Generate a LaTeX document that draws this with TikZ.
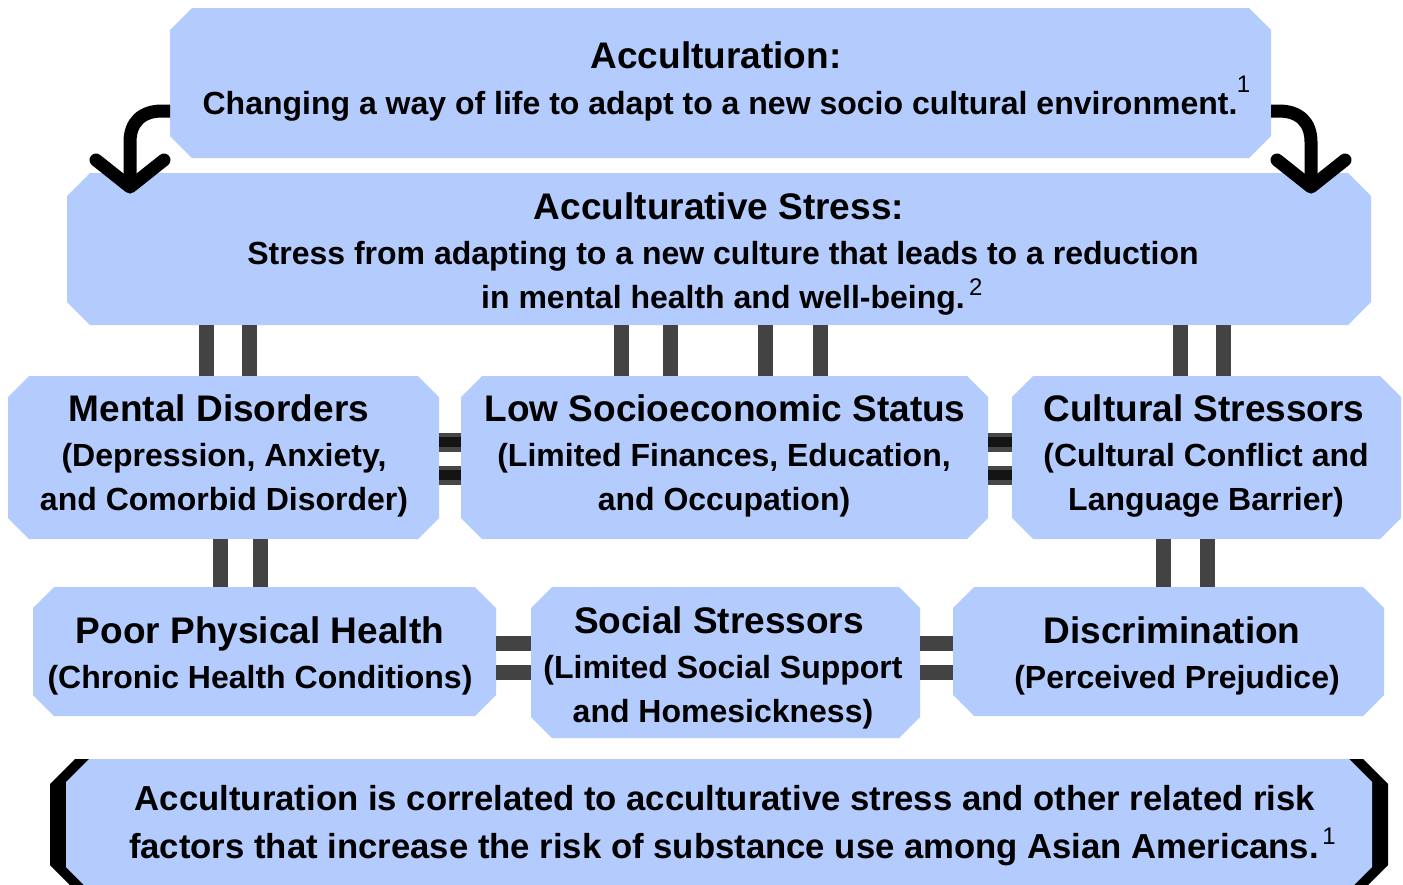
\documentclass[tikz,border=0pt]{standalone}
\usepackage{fontspec}
\setmainfont{Liberation Sans}
\definecolor{boxblue}{HTML}{B4CBFE}
\definecolor{bargray}{HTML}{434343}
\definecolor{bardark}{HTML}{141414}
\definecolor{barrim}{HTML}{474747}
\newcommand\obox[6]{%
  \fill[boxblue] (#2+#6,#3) -- (#4-#6,#3) -- (#4,#3+#6) -- (#4,#5-#6) -- (#4-#6,#5) -- (#2+#6,#5) -- (#2,#5-#6) -- (#2,#3+#6) -- cycle;
  \node[boxnode, minimum width={(#4-#2)*1pt}, minimum height={(#5-#3)*1pt}] (#1) at ({(#2+#4)/2},{(#3+#5)/2}) {};}
\begin{document}
\begin{tikzpicture}[x=1pt,y=-1pt,
  boxnode/.style={inner sep=0pt, outer sep=0pt, draw=none},
  ttl/.style={font=\fontsize{37}{44}\selectfont\bfseries, anchor=base, inner sep=0pt},
  body/.style={font=\fontsize{32}{44}\selectfont\bfseries, anchor=base, inner sep=0pt},
  concl/.style={font=\fontsize{34.7}{48}\selectfont\bfseries, anchor=base, inner sep=0pt},
  sup/.style={font=\fontsize{24}{24}\selectfont, anchor=base west, inner sep=0pt},
  vbar/.style={draw=bargray, line width=15pt},
  hbar/.style={draw=bargray, line width=15pt},
  hbardark/.style={draw=barrim, double=bardark, double distance=10pt, line width=4.5pt},
  bigarrow/.style={draw=black, line width=13pt},
  arrowhead/.style={draw=black, line width=13pt, line cap=round, line join=round}]
\useasboundingbox (0,0) rectangle (1403,884);
\clip (0,0) rectangle (1403,884);
\fill[white] (0,0) rectangle (1403,884);

% boxes
\obox{acc}{170}{8}{1271}{158}{22}
\obox{ast}{67}{173}{1371}{325}{23}
\obox{md}{8}{376}{439}{539}{21}
\obox{ses}{461}{376}{988}{539}{21}
\obox{cs}{1012}{376}{1401}{539}{21}
\obox{pph}{33}{587}{496}{716}{21}
\obox{soc}{531}{587}{920}{738}{21}
\obox{disc}{953}{587}{1384}{716}{21}
% conclusion box with black brackets
\fill[black] (50+25,759) -- (1388-25,759) -- (1388,759+25) -- (1388,890-25) -- (1388-25,890) -- (50+25,890) -- (50,890-25) -- (50,759+25) -- cycle;
\obox{conc}{66}{759}{1372}{890}{23}

% texts
\node[ttl] (accT) at (716,68) {Acculturation:};
\node[body] (accB) at (720,114) {Changing a way of life to adapt to a new socio cultural environment.};
\node[sup] (accS) at ([xshift=-1pt,yshift=22pt]accB.base east) {1};

\node[ttl] (astT) at (719,219) {Acculturative Stress:};
\node[body] (astB1) at (723,264) {Stress from adapting to a new culture that leads to a reduction};
\node[body] (astB2) at (723,308) {in mental health and well-being.};
\node[sup] (astS) at ([xshift=4pt,yshift=13pt]astB2.base east) {2};

\node[ttl] (mdT) at (219,421) {Mental Disorders};
\node[body] (mdB1) at (224,466) {(Depression, Anxiety,};
\node[body] (mdB2) at (224,510) {and Comorbid Disorder)};

\node[ttl] (sesT) at (725,421) {Low Socioeconomic Status};
\node[body] (sesB1) at (724,466) {(Limited Finances, Education,};
\node[body] (sesB2) at (724,510) {and Occupation)};

\node[ttl] (csT) at (1204,421) {Cultural Stressors};
\node[body] (csB1) at (1206,466) {(Cultural Conflict and};
\node[body] (csB2) at (1206,510) {Language Barrier)};

\node[ttl] (pphT) at (260,643) {Poor Physical Health};
\node[body] (pphB) at (260,688) {(Chronic Health Conditions)};

\node[ttl] (socT) at (719,633) {Social Stressors};
\node[body] (socB1) at (723,678) {(Limited Social Support};
\node[body] (socB2) at (723,722) {and Homesickness)};

\node[ttl] (discT) at (1172,643) {Discrimination};
\node[body] (discB) at (1177,688) {(Perceived Prejudice)};

\node[concl] (conB1) at (725,810) {Acculturation is correlated to acculturative stress and other related risk};
\node[concl] (conB2) at (724,858) {factors that increase the risk of substance use among Asian Americans.};
\node[sup] (conS) at ([xshift=3pt,yshift=14pt]conB2.base east) {1};

% vertical double bars
\foreach \xx in {206,249}{\draw[vbar] (\xx,0 |- ast.south) -- (\xx,0 |- md.north);}
\foreach \xx in {621,670,765,820}{\draw[vbar] (\xx,0 |- ast.south) -- (\xx,0 |- ses.north);}
\foreach \xx in {1180,1223}{\draw[vbar] (\xx,0 |- ast.south) -- (\xx,0 |- cs.north);}
\foreach \xx in {220,260}{\draw[vbar] (\xx,0 |- md.south) -- (\xx,0 |- pph.north);}
\foreach \xx in {1163,1207}{\draw[vbar] (\xx,0 |- cs.south) -- (\xx,0 |- disc.north);}

% horizontal double bars
\foreach \yy in {442,475}{
  \draw[hbardark] (md.east |- 0,\yy) -- (ses.west |- 0,\yy);
  \draw[hbardark] (ses.east |- 0,\yy) -- (cs.west |- 0,\yy);}
\foreach \yy in {643,672}{
  \draw[hbar] (pph.east |- 0,\yy) -- (soc.west |- 0,\yy);
  \draw[hbar] (soc.east |- 0,\yy) -- (disc.west |- 0,\yy);}

% curved arrows
\coordinate (tipL) at (130,187);
\coordinate (tipR) at (1311,187);
\draw[bigarrow] (acc.west |- 0,111) -- (162,111) .. controls (142,111) and (130,122) .. (130,142) -- (tipL);
\draw[arrowhead] (96,160) -- (tipL) -- (164,160);
\draw[bigarrow] (acc.east |- 0,111) -- (1279,111) .. controls (1299,111) and (1311,122) .. (1311,142) -- (tipR);
\draw[arrowhead] (1277,160) -- (tipR) -- (1345,160);
\end{tikzpicture}
\end{document}
